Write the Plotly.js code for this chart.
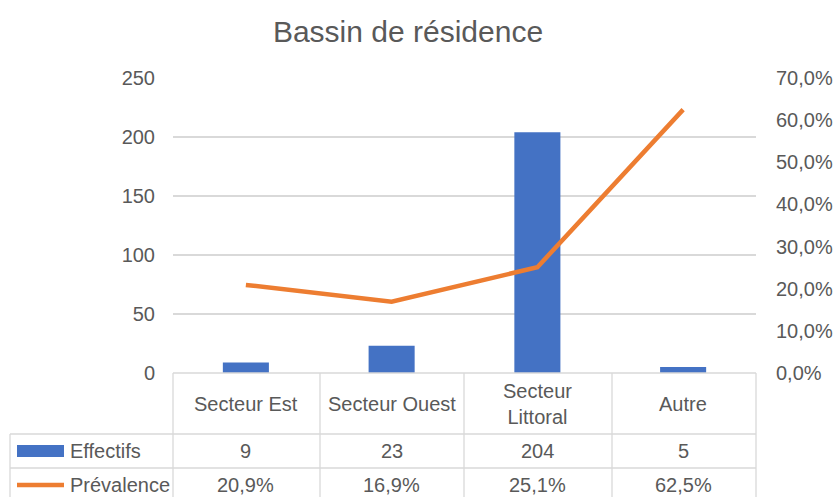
<!DOCTYPE html>
<html>
<head>
<meta charset="utf-8">
<script src="https://cdn.plot.ly/plotly-3.0.1.min.js"></script>
<style>html,body{margin:0;padding:0;background:#fff;}</style>
</head>
<body>
<div id="chart" style="width:835px;height:497px;"></div>
<script>
// ---- data ----
const categories = ['Secteur Est', 'Secteur Ouest', 'Secteur Littoral', 'Autre'];
const tableLabels = ['Secteur Est', 'Secteur Ouest', 'Secteur<br>Littoral', 'Autre'];
const effectifs = [9, 23, 204, 5];
const prevalence = [0.209, 0.169, 0.251, 0.625];
const seriesNames = ['Effectifs', 'Prévalence'];
const chartTitle = 'Bassin de résidence';

// ---- layout helpers (pixel -> paper) ----
const W = 835, H = 497;
const L = 173, R = 756, T = 78, B = 373;
const px = x => (x - L) / (R - L);
const py = y => (B - y) / (B - T);

const FONT = '"Liberation Sans", Arial, sans-serif';
const TXT = '#595959';
const GRID = '#d9d9d9';
const BLUE = '#4472C4';
const ORANGE = '#ED7D31';

const fmtPct = v => (v * 100).toFixed(1).replace('.', ',') + '%';

const traces = [
  {
    type: 'bar', name: seriesNames[0], x: categories, y: effectifs,
    marker: {color: BLUE}, yaxis: 'y', hoverinfo: 'none'
  },
  {
    type: 'scatter', mode: 'lines', name: seriesNames[1], x: categories, y: prevalence,
    line: {color: ORANGE, width: 4.5}, yaxis: 'y2', hoverinfo: 'none', cliponaxis: false
  }
];

// ---- data table (lines) ----
const tableCols = [173, 320, 464, 612, 756];
const shapes = [];
const lineStyle = {color: GRID, width: 1.3};
// horizontal
shapes.push({type:'line', xref:'paper', yref:'paper', x0:px(173), x1:px(756), y0:py(373), y1:py(373), line:lineStyle});
[434, 468, 503].forEach(y => shapes.push({type:'line', xref:'paper', yref:'paper', x0:px(10), x1:px(756), y0:py(y), y1:py(y), line:lineStyle}));
// vertical
tableCols.forEach(x => shapes.push({type:'line', xref:'paper', yref:'paper', x0:px(x), x1:px(x), y0:py(373), y1:py(503), line:lineStyle}));
shapes.push({type:'line', xref:'paper', yref:'paper', x0:px(10), x1:px(10), y0:py(434), y1:py(503), line:lineStyle});
// legend keys
shapes.push({type:'rect', xref:'paper', yref:'paper', x0:px(17), x1:px(64), y0:py(445), y1:py(457), fillcolor:BLUE, line:{width:0}});
shapes.push({type:'line', xref:'paper', yref:'paper', x0:px(17), x1:px(64), y0:py(485), y1:py(485), line:{color:ORANGE, width:4.5}});

// ---- data table (texts) ----
const annotations = [];
const tfont = {family: FONT, size: 20, color: TXT};
categories.forEach((c, i) => {
  annotations.push({xref:'x', yref:'paper', x:c, y:py(403.5), text:tableLabels[i], showarrow:false, font:tfont, xanchor:'center', yanchor:'middle'});
  annotations.push({xref:'x', yref:'paper', x:c, y:py(451), text:String(effectifs[i]), showarrow:false, font:tfont, xanchor:'center', yanchor:'middle'});
  annotations.push({xref:'x', yref:'paper', x:c, y:py(485), text:fmtPct(prevalence[i]), showarrow:false, font:tfont, xanchor:'center', yanchor:'middle'});
});
annotations.push({xref:'paper', yref:'paper', x:px(68), y:py(451), text:seriesNames[0], showarrow:false, font:tfont, xanchor:'left', yanchor:'middle'});
annotations.push({xref:'paper', yref:'paper', x:px(68), y:py(485), text:seriesNames[1], showarrow:false, font:tfont, xanchor:'left', yanchor:'middle'});

const layout = {
  width: W, height: H,
  margin: {l: L, r: W - R, t: T, b: H - B, pad: 0},
  paper_bgcolor: '#fff', plot_bgcolor: '#fff',
  separators: ', ',
  showlegend: false,
  bargap: 0.684,
  font: {family: FONT, size: 20, color: TXT},
  title: {text: chartTitle, font: {family: FONT, size: 30, color: TXT},
          x: 408 / W, xanchor: 'center', y: 1 - 31/H, yanchor: 'middle', xref: 'container', yref: 'container'},
  xaxis: {showticklabels: false, showgrid: false, zeroline: false, showline: false, ticks: ''},
  yaxis: {range: [0, 250], dtick: 50, showgrid: true, gridcolor: GRID, gridwidth: 1.3, zeroline: false,
          showline: false, ticks: '', tickfont: {family: FONT, size: 20, color: TXT}, ticklabelstandoff: 17},
  yaxis2: {range: [0, 0.7], dtick: 0.1, tickformat: '.1%', overlaying: 'y', side: 'right', showgrid: false,
           zeroline: false, showline: false, ticks: '', tickfont: {family: FONT, size: 20, color: TXT}, ticklabelstandoff: 19},
  shapes: shapes,
  annotations: annotations
};

Plotly.newPlot('chart', traces, layout, {displayModeBar: false, staticPlot: true});
</script>
</body>
</html>
